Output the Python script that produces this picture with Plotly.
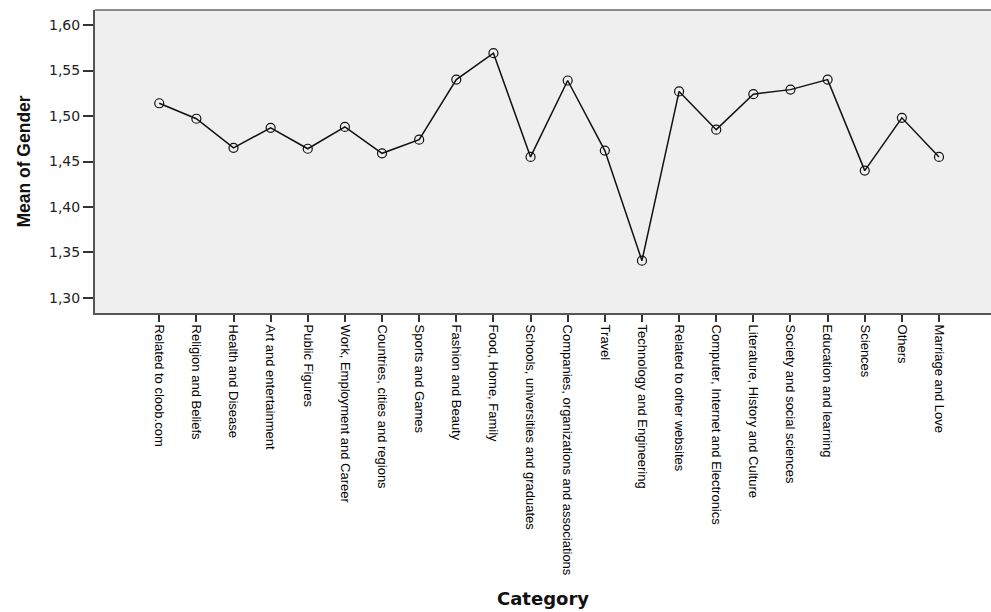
import plotly.graph_objects as go

categories = [
    "Related to cloob.com", "Religion and Beliefs", "Health and Disease",
    "Art and entertainment", "Public Figures", "Work, Employment and Career",
    "Countries, cities and regions", "Sports and Games", "Fashion and Beauty",
    "Food, Home, Family", "Schools, universities and graduates",
    "Companies, organizations and associations", "Travel",
    "Technology and Engineering", "Related to other websites",
    "Computer, Internet and Electronics", "Literature, History and Culture",
    "Society and social sciences", "Education and learning", "Sciences",
    "Others", "Marriage and Love",
]
mean_gender = [
    1.514, 1.497, 1.465, 1.487, 1.464, 1.488, 1.459, 1.474, 1.540, 1.569,
    1.455, 1.539, 1.462, 1.341, 1.527, 1.485, 1.524, 1.529, 1.540, 1.440,
    1.498, 1.455,
]
y_ticks = [1.30, 1.35, 1.40, 1.45, 1.50, 1.55, 1.60]

fig = go.Figure()
fig.add_trace(go.Scatter(
    x=list(range(len(categories))),
    y=mean_gender,
    mode="lines+markers",
    line=dict(color="#111111", width=1.5),
    marker=dict(symbol="circle-open", size=9, color="#111111", line=dict(width=1.2)),
    showlegend=False,
))

fig.update_layout(
    width=991, height=612,
    margin=dict(l=95, r=0, t=10, b=299),
    paper_bgcolor="white",
    plot_bgcolor="#efefef",
    separators=",.",
    xaxis=dict(
        range=[-1.73, 22.4],
        tickmode="array",
        tickvals=list(range(len(categories))),
        ticktext=categories,
        tickangle=90,
        ticks="outside", ticklen=7, tickcolor="#333333", tickwidth=1.5,
        showgrid=False, zeroline=False,
        showline=True, linecolor="#555555", linewidth=2,
        tickfont=dict(family="Liberation Sans Narrow, Arial Narrow, Liberation Sans", size=13, color="#000000"),
        title=dict(text="Category", standoff=18,
                   font=dict(family="DejaVu Sans", size=18, color="#111111", weight="bold")),
    ),
    yaxis=dict(
        range=[1.2835, 1.6165],
        tickmode="array",
        tickvals=y_ticks,
        tickformat=".2f",
        ticks="outside", ticklen=10, tickcolor="#333333", tickwidth=1.5,
        showgrid=False, zeroline=False,
        showline=True, linecolor="#555555", linewidth=2,
        tickfont=dict(family="DejaVu Sans", size=14, color="#222222"),
        title=dict(text="Mean of Gender", standoff=14,
                   font=dict(family="Liberation Sans", size=17.5, color="#111111", weight="bold")),
    ),
    shapes=[dict(type="line", xref="paper", yref="paper", x0=0, x1=1, y0=1, y1=1,
                 line=dict(color="#8a8a8a", width=2))],
)

fig.write_html(
    "out.html",
    config={"displayModeBar": False},
    post_script="document.body.style.margin='0';document.body.style.overflow='hidden';",
)
